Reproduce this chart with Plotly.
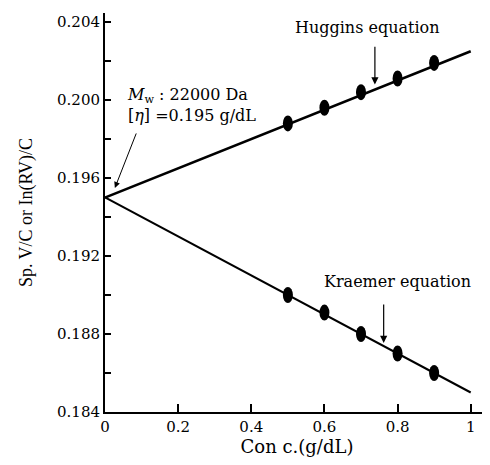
import plotly.graph_objects as go

conc = [0.5, 0.6, 0.7, 0.8, 0.9]
huggins = [0.1988, 0.1996, 0.2004, 0.2011, 0.2019]
kraemer = [0.1900, 0.1891, 0.1880, 0.1870, 0.1860]
fit_x = [0.0, 1.0]
huggins_fit = [0.1950, 0.2025]
kraemer_fit = [0.1950, 0.1850]
xticks = [0, 0.2, 0.4, 0.6, 0.8, 1]
xticklabels = ["0", "0.2", "0.4", "0.6", "0.8", "1"]
yticks = [0.184, 0.188, 0.192, 0.196, 0.200, 0.204]
yticklabels = ["0.184", "0.188", "0.192", "0.196", "0.200", "0.204"]

FONT = "DejaVu Serif"
FONT2 = "Liberation Serif"
fig = go.Figure()
fig.add_trace(go.Scatter(x=fit_x, y=huggins_fit, mode="lines",
                         line=dict(color="black", width=2.5), showlegend=False))
fig.add_trace(go.Scatter(x=fit_x, y=kraemer_fit, mode="lines",
                         line=dict(color="black", width=2), showlegend=False))
fig.add_trace(go.Scatter(x=conc, y=huggins, mode="markers",
                         marker=dict(color="black", size=9), showlegend=False))
fig.add_trace(go.Scatter(x=conc, y=kraemer, mode="markers",
                         marker=dict(color="black", size=9), showlegend=False))

# elliptical markers
for xs, ys in ((conc, huggins), (conc, kraemer)):
    for xv, yv in zip(xs, ys):
        fig.add_shape(type="circle", xref="x", yref="y",
                      xsizemode="pixel", ysizemode="pixel",
                      xanchor=xv, yanchor=yv, x0=-5, x1=5, y0=-8, y1=8,
                      fillcolor="black", line=dict(color="black", width=0))

fig.update_xaxes(range=[0, 1.05], tickmode="array", tickvals=xticks, ticktext=xticklabels,
                 ticks="inside", ticklen=8, tickwidth=2, tickcolor="black", automargin=False,
                 showline=True, linecolor="black", linewidth=2, showgrid=False, zeroline=False,
                 tickfont=dict(family=FONT, size=15, color="black"),
                 title=dict(text="Con c.(g/dL)", font=dict(family=FONT, size=18, color="black"), standoff=4))
fig.update_yaxes(range=[0.184, 0.20446], tickmode="array", tickvals=yticks, ticktext=yticklabels,
                 ticks="inside", ticklen=6, tickwidth=2, tickcolor="black", automargin=False,
                 minor=dict(tickvals=[0.186, 0.190, 0.194, 0.198, 0.202], ticks="inside",
                            ticklen=6, tickwidth=2, tickcolor="black"),
                 showline=True, linecolor="black", linewidth=2, showgrid=False, zeroline=False,
                 tickfont=dict(family=FONT, size=15, color="black"),
                 title=dict(text="Sp. V/C or In(RV)/C", font=dict(family=FONT2, size=18, color="black"), standoff=20))

fig.add_annotation(x=0.719, y=0.2037, xref="x", yref="y", text="Huggins equation", showarrow=False,
                   font=dict(family=FONT, size=16, color="black"))
fig.add_annotation(x=0.738, y=0.2008, ax=0.738, ay=0.2028, axref="x", ayref="y", xref="x", yref="y",
                   text="", showarrow=True, arrowhead=2, arrowsize=1.2, arrowwidth=1.2, arrowcolor="black")
fig.add_annotation(x=0.80, y=0.1907, xref="x", yref="y", text="Kraemer equation", showarrow=False,
                   font=dict(family=FONT, size=16, color="black"))
fig.add_annotation(x=0.762, y=0.18754, ax=0.762, ay=0.18959, axref="x", ayref="y", xref="x", yref="y",
                   text="", showarrow=True, arrowhead=2, arrowsize=1.2, arrowwidth=1.2, arrowcolor="black")
fig.add_annotation(x=0.054, y=0.19975, xref="x", yref="y", xanchor="left", yanchor="middle",
                   text="<i>M</i><sub>w</sub> : 22000 Da<br>[<i>η</i>] =0.195 g/dL", showarrow=False, align="left",
                   font=dict(family=FONT, size=16, color="black"))
fig.add_annotation(x=0.027, y=0.19549, ax=0.087, ay=0.19836, axref="x", ayref="y", xref="x", yref="y",
                   text="", showarrow=True, arrowhead=2, arrowsize=1.2, arrowwidth=1, arrowcolor="black")

fig.update_layout(width=482, height=457, margin=dict(l=97, r=1, t=5, b=53),
                  plot_bgcolor="white", paper_bgcolor="white")
fig.write_html("out.html")
